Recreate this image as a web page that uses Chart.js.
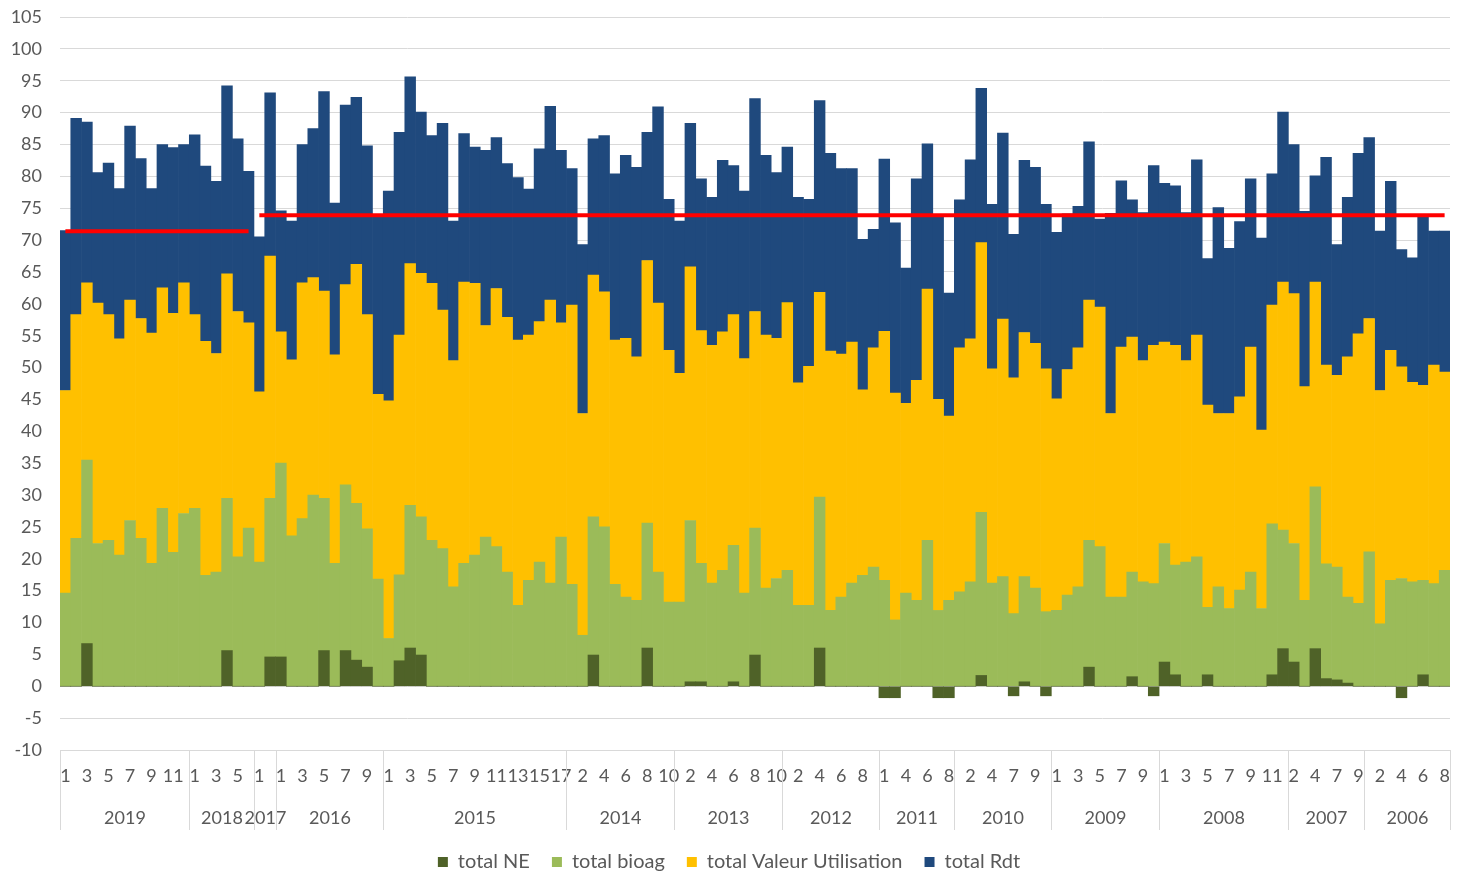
<!DOCTYPE html>
<html>
<head>
<meta charset="utf-8">
<script src="https://cdn.jsdelivr.net/npm/chart.js@4.4.1/dist/chart.umd.min.js"></script>
<style>
  html, body { margin: 0; padding: 0; background: #fff; }
  #wrap { width: 1461px; height: 873px; position: relative; }
</style>
</head>
<body>
<div id="wrap"><canvas id="chart"></canvas></div>
<script>
// ── Data ────────────────────────────────────────────────────────────────
const YEARS = ['2019', '2018', '2017', '2016', '2015', '2014', '2013', '2012', '2011', '2010', '2009', '2008', '2007', '2006'];
const YEAR_MONTHS = [
  [1, 2, 3, 4, 5, 6, 7, 8, 9, 10, 11, 12],
  [1, 2, 3, 4, 5, 6],
  [1, 2],
  [1, 2, 3, 4, 5, 6, 7, 8, 9, 10],
  [1, 2, 3, 4, 5, 6, 7, 8, 9, 10, 11, 12, 13, 14, 15, 16, 17],
  [1, 2, 3, 4, 5, 6, 7, 8, 9, 10],
  [1, 2, 3, 4, 5, 6, 7, 8, 9, 10],
  [1, 2, 3, 4, 5, 6, 7, 8, 9],
  [1, 2, 4, 5, 6, 7, 8],
  [1, 2, 3, 4, 6, 7, 8, 9, 10],
  [1, 2, 3, 4, 5, 6, 7, 8, 9, 10],
  [1, 2, 3, 4, 5, 6, 7, 8, 9, 10, 11, 12],
  [2, 3, 4, 5, 7, 8, 9],
  [1, 2, 3, 4, 5, 6, 7, 8],
];

const TOTAL_NE = [
  0, 0, 6.7, 0, 0, 0, 0, 0, 0, 0, 0, 0,
  0, 0, 0, 5.6, 0, 0,
  0, 4.6,
  4.6, 0, 0, 0, 5.6, 0, 5.6, 4.1, 3.0, 0,
  0, 4.0, 6.0, 4.9, 0, 0, 0, 0, 0, 0, 0, 0, 0, 0, 0, 0, 0,
  0, 0, 4.9, 0, 0, 0, 0, 6.0, 0, 0,
  0, 0.7, 0.7, 0, 0, 0.7, 0, 4.9, 0, 0,
  0, 0, 0, 6.0, 0, 0, 0, 0, 0,
  -1.8, -1.8, 0, 0, 0, -1.8, -1.8,
  0, 0, 1.7, 0, 0, -1.5, 0.7, 0, -1.5,
  0, 0, 0, 3.0, 0, 0, 0, 1.5, 0, -1.5,
  3.8, 1.8, 0, 0, 1.8, 0, 0, 0, 0, 0, 1.8, 5.9,
  3.8, 0, 5.9, 1.2, 1.0, 0.5, 0,
  0, 0, 0, -1.8, 0, 1.8, 0, 0,
];
const TOTAL_BIOAG = [
  14.6, 23.2, 28.8, 22.4, 22.9, 20.6, 26.0, 23.2, 19.3, 27.9, 21.0, 27.1,
  27.9, 17.4, 17.9, 23.9, 20.3, 24.8,
  19.5, 24.9,
  30.4, 23.6, 26.3, 30.0, 23.9, 19.3, 26.0, 24.6, 21.7, 16.8,
  7.5, 13.5, 22.4, 21.7, 22.9, 21.6, 15.6, 19.3, 20.6, 23.4, 21.9, 17.9, 12.7, 16.6, 19.5, 16.2, 23.4,
  16.0, 8.0, 21.7, 25.0, 16.0, 14.0, 13.5, 19.6, 17.9, 13.2,
  13.2, 25.3, 18.6, 16.2, 18.2, 21.4, 14.6, 19.9, 15.4, 16.9,
  18.2, 12.7, 12.7, 23.7, 11.9, 14.0, 16.2, 17.4, 18.7,
  16.6, 10.4, 14.6, 13.5, 22.9, 11.9, 13.5,
  14.8, 16.4, 25.6, 16.2, 17.2, 11.4, 16.5, 15.4, 11.7,
  11.9, 14.3, 15.6, 19.9, 21.9, 14.0, 14.0, 16.4, 16.4, 16.1,
  18.6, 17.2, 19.5, 20.3, 10.6, 15.6, 12.2, 15.1, 17.9, 12.2, 23.7, 18.6,
  18.6, 13.5, 25.4, 18.0, 17.7, 13.5, 13.0,
  21.1, 9.8, 16.6, 16.9, 16.4, 14.8, 16.1, 18.2,
];
const TOTAL_VALEUR_UTIL = [
  31.8, 35.1, 27.8, 37.7, 35.4, 33.9, 34.6, 34.5, 36.1, 34.6, 37.5, 36.2,
  30.4, 36.7, 34.3, 35.2, 38.5, 32.2,
  26.7, 38.0,
  20.6, 27.6, 37.0, 34.1, 32.5, 32.7, 31.4, 37.5, 33.6, 29.0,
  37.3, 37.6, 37.9, 38.2, 40.3, 37.4, 35.5, 44.1, 42.6, 33.2, 40.5, 40.0, 41.6, 38.5, 37.7, 44.4, 33.6,
  43.8, 34.8, 37.9, 36.9, 38.3, 40.6, 38.2, 41.2, 42.2, 39.5,
  35.9, 39.8, 36.5, 37.3, 37.4, 36.2, 36.8, 34.0, 39.7, 37.7,
  42.0, 34.9, 37.5, 32.1, 40.7, 38.1, 37.8, 29.1, 34.4,
  39.1, 35.6, 29.8, 34.5, 39.4, 33.1, 28.9,
  38.3, 38.1, 42.3, 33.6, 40.4, 37.0, 38.3, 38.4, 38.1,
  33.2, 35.4, 37.5, 37.7, 37.6, 28.8, 39.2, 36.9, 34.7, 37.4,
  31.6, 34.5, 31.6, 34.8, 31.7, 27.2, 30.6, 30.3, 35.3, 28.0, 34.3, 38.9,
  39.2, 33.5, 32.1, 31.2, 30.1, 37.7, 42.3,
  36.6, 36.6, 36.1, 33.2, 31.3, 30.6, 34.3, 31.1,
];
const TOTAL_RDT = [
  25.1, 30.8, 25.2, 20.5, 23.8, 23.6, 27.3, 25.1, 22.7, 22.5, 26.0, 21.7,
  28.2, 27.5, 27.0, 29.5, 27.1, 23.8,
  24.3, 25.6,
  19.0, 21.8, 21.7, 23.4, 31.3, 23.8, 28.2, 26.2, 26.5, 28.2,
  32.9, 31.8, 29.3, 25.3, 23.2, 29.3, 21.9, 23.3, 21.4, 27.5, 23.7, 24.1, 25.5, 22.9, 27.1, 30.4, 27.1,
  21.4, 26.5, 21.4, 24.5, 26.1, 28.7, 29.7, 20.1, 30.8, 23.7,
  23.9, 22.5, 23.8, 23.2, 26.9, 23.4, 26.3, 33.4, 28.2, 26.0,
  24.4, 29.1, 26.2, 30.1, 31.0, 29.1, 27.2, 23.6, 18.6,
  27.0, 26.7, 21.2, 31.6, 22.8, 28.8, 19.3,
  23.2, 28.1, 24.2, 25.8, 29.2, 22.5, 27.0, 27.6, 25.8,
  26.1, 24.4, 22.2, 24.8, 13.8, 31.4, 26.1, 21.5, 23.2, 28.2,
  24.9, 25.0, 23.2, 27.5, 23.0, 32.3, 25.9, 27.5, 26.4, 30.1, 20.6, 26.7,
  23.4, 27.5, 16.7, 32.6, 20.5, 25.0, 28.3,
  28.4, 25.0, 26.5, 18.4, 19.5, 26.4, 21.0, 22.1,
];

// reference levels (red line): 2019–2018 and 2017 onward
const REF_2019_2018 = 71.4;
const REF_FROM_2017 = 73.9;

const Y_TICKS = { min: -10, max: 105, step: 5 };

// ── Build categories ────────────────────────────────────────────────────
const LABELS = YEAR_MONTHS.flat().map(String);
const firstPeriodLen = YEAR_MONTHS[0].length + YEAR_MONTHS[1].length;
const refA = LABELS.map((_, i) => (i < firstPeriodLen ? REF_2019_2018 : null));
const refB = LABELS.map((_, i) => (i >= firstPeriodLen ? REF_FROM_2017 : null));

const FONT = "Lato, 'Open Sans', sans-serif";
const TEXT = '#595959';
const GRID = '#d9d9d9';

Chart.defaults.font.family = FONT;
Chart.defaults.color = TEXT;

// ── Two-level category axis: year separators + year names ──────────────
const yearGroups = {
  id: 'yearGroups',
  afterDraw(chart) {
    const { ctx, chartArea } = chart;
    const x = chart.scales.x;
    const half = (x.getPixelForValue(1) - x.getPixelForValue(0)) / 2;
    const edge = i => Math.round(x.getPixelForValue(i) - half) + 0.5;
    const top = chartArea.bottom;
    const bottom = top + 80;

    ctx.save();
    ctx.strokeStyle = GRID;
    ctx.lineWidth = 1;
    ctx.fillStyle = TEXT;
    ctx.font = `18px ${FONT}`;
    ctx.textAlign = 'center';
    ctx.textBaseline = 'middle';

    let start = 0;
    YEAR_MONTHS.forEach((months, g) => {
      const end = start + months.length;
      const x0 = edge(start);
      const x1 = edge(end);
      ctx.beginPath();
      ctx.moveTo(x0, top);
      ctx.lineTo(x0, bottom);
      ctx.stroke();
      ctx.fillText(YEARS[g], (x0 + x1) / 2, top + 68);
      start = end;
    });
    const xl = edge(start);
    ctx.beginPath();
    ctx.moveTo(xl, top);
    ctx.lineTo(xl, bottom);
    ctx.stroke();
    ctx.restore();
  },
};

// ── Chart ───────────────────────────────────────────────────────────────
function barSet(label, data, color) {
  return {
    type: 'bar',
    label,
    data,
    backgroundColor: color,
    borderWidth: 0,
    barPercentage: 1,
    categoryPercentage: 1,
    stack: 'totals',
    order: 1,
  };
}

function refSet(name, data) {
  return {
    type: 'line',
    label: 'ref',
    data,
    borderColor: '#ff0000',
    borderWidth: 4,
    pointRadius: 0,
    fill: false,
    spanGaps: false,
    stack: name,
    order: 0,
  };
}

new Chart(document.getElementById('chart'), {
  data: {
    labels: LABELS,
    datasets: [
      barSet('total NE', TOTAL_NE, '#4f6228'),
      barSet('total bioag', TOTAL_BIOAG, '#9bbb59'),
      barSet('total Valeur Utilisation', TOTAL_VALEUR_UTIL, '#ffc000'),
      barSet('total Rdt', TOTAL_RDT, '#1f497d'),
      refSet('refA', refA),
      refSet('refB', refB),
    ],
  },
  options: {
    responsive: true,
    maintainAspectRatio: false,
    animation: false,
    layout: { padding: { top: 17, left: 8, right: 11, bottom: -9 } },
    plugins: {
      tooltip: { enabled: false },
      legend: {
        position: 'bottom',
        labels: {
          filter: item => item.text !== 'ref',
          boxWidth: 10,
          boxHeight: 10,
          padding: 22,
          font: { size: 20 },
          color: TEXT,
        },
      },
    },
    scales: {
      x: {
        stacked: true,
        grid: { display: false, drawTicks: false },
        border: { display: true, color: GRID },
        ticks: {
          autoSkip: false,
          maxRotation: 0,
          padding: 15,
          font: { size: 18 },
          color: TEXT,
          callback: (v, i) => (i % 2 === 0 ? LABELS[i] : ''),
        },
        afterFit: scale => {
          scale.height = 80;
          scale.paddingLeft = 0;
          scale.paddingRight = 0;
        },
      },
      y: {
        stacked: true,
        min: Y_TICKS.min,
        max: Y_TICKS.max,
        grid: { color: GRID, drawTicks: false },
        border: { display: false },
        ticks: { stepSize: Y_TICKS.step, padding: 18, font: { size: 18 }, color: TEXT },
        afterFit: scale => {
          scale.width = 52;
          scale.paddingTop = 11;
          scale.paddingBottom = 11;
        },
      },
    },
  },
  plugins: [yearGroups],
});
</script>
</body>
</html>
